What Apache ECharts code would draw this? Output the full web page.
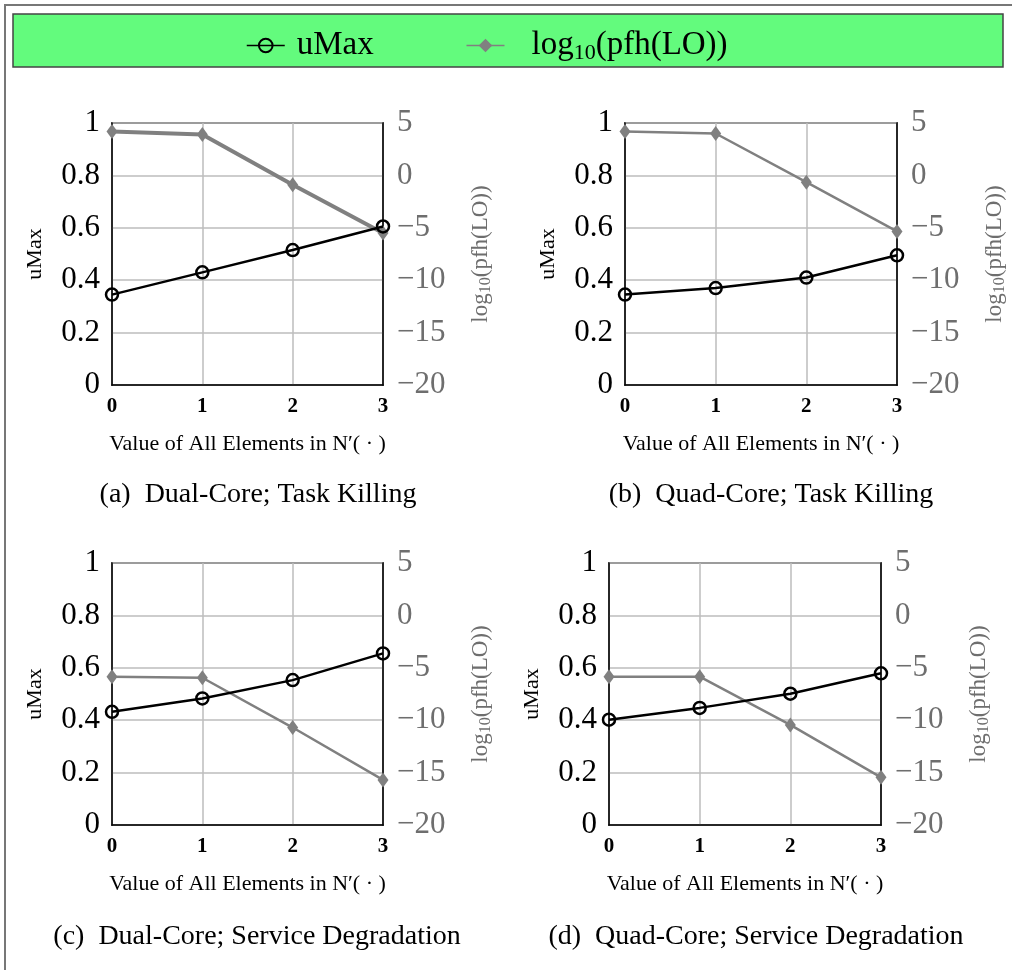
<!DOCTYPE html>
<html>
<head>
<meta charset="utf-8">
<script src="https://cdn.jsdelivr.net/npm/echarts@6/dist/echarts.min.js"></script>
<style>
  html, body { margin: 0; padding: 0; background: #fff; }
  #chart { width: 1012px; height: 970px; }
</style>
</head>
<body>
<div id="chart"></div>
<script>
// x positions: value of all elements in N'(.)
const xValues = [0, 1, 2, 3];

// (a) Dual-Core; Task Killing
const uMaxA = [0.345, 0.43, 0.515, 0.605];
const logA = [4.2, 3.9, -0.9, -5.5];
// (b) Quad-Core; Task Killing
const uMaxB = [0.345, 0.37, 0.41, 0.495];
const logB = [4.2, 4.0, -0.65, -5.35];
// (c) Dual-Core; Service Degradation
const uMaxC = [0.432, 0.483, 0.553, 0.655];
const logC = [-5.85, -5.95, -10.7, -15.7];
// (d) Quad-Core; Service Degradation
const uMaxD = [0.402, 0.447, 0.501, 0.579];
const logD = [-5.85, -5.85, -10.45, -15.45];

const captions = [
  "(a)\u2002Dual-Core; Task Killing",
  "(b)\u2002Quad-Core; Task Killing",
  "(c)\u2002Dual-Core; Service Degradation",
  "(d)\u2002Quad-Core; Service Degradation",
];

const FONT = "'Liberation Serif', 'DejaVu Serif', serif";
const GRAY = "#808080";
const LABEL_GRAY = "#6e6e6e";
const LOG_NAME = "log10(pfh(LO))";

const panels = [
  { left: 112, top: 123, width: 271, uMax: uMaxA, log: logA, logWidth: 4, cx: 258, cy: 495 },
  { left: 625, top: 123, width: 272, uMax: uMaxB, log: logB, logWidth: 2.5, cx: 771, cy: 495 },
  { left: 112, top: 563, width: 271, uMax: uMaxC, log: logC, logWidth: 2.5, cx: 257, cy: 937 },
  { left: 609, top: 563, width: 272, uMax: uMaxD, log: logD, logWidth: 2.5, cx: 756, cy: 937 },
];

const grid = [];
const xAxis = [];
const yAxis = [];
const series = [];
const graphic = [
  {
    type: "rect",
    z: -10,
    shape: { x: 5, y: 5, width: 1040, height: 1000 },
    style: { fill: "none", stroke: "#777", lineWidth: 2 },
  },
  {
    type: "rect",
    z: -10,
    shape: { x: 13, y: 14, width: 990, height: 53 },
    style: { fill: "#63fb7d", stroke: "#444", lineWidth: 1.5 },
  },
];

panels.forEach((p, i) => {
  grid.push({
    left: p.left,
    top: p.top,
    width: p.width,
    height: 262,
    show: true,
    borderColor: "#000",
    borderWidth: 1.5,
  });
  xAxis.push({
    type: "value",
    gridIndex: i,
    min: 0,
    max: 3,
    interval: 1,
    name: "Value of All Elements in N\u2032( \u00b7 )",
    nameLocation: "middle",
    nameGap: 48,
    nameTextStyle: { fontFamily: FONT, fontSize: 22, color: "#000" },
    axisLine: { lineStyle: { color: "#000", width: 1.5 } },
    axisTick: { show: false },
    axisLabel: { fontFamily: FONT, fontSize: 21, fontWeight: "bold", color: "#000", margin: 11 },
    splitLine: { lineStyle: { color: "#bdbdbd", width: 1.5 } },
  });
  yAxis.push({
    type: "value",
    gridIndex: i,
    position: "left",
    min: 0,
    max: 1,
    interval: 0.2,
    name: "uMax",
    nameLocation: "middle",
    nameRotate: 90,
    nameGap: 66,
    nameTextStyle: { fontFamily: FONT, fontSize: 22, color: "#000" },
    axisLine: { show: true, lineStyle: { color: "#000", width: 1.5 } },
    axisTick: { show: false },
    axisLabel: { fontFamily: FONT, fontSize: 31, color: "#000", margin: 12 },
    splitLine: { lineStyle: { color: "#bdbdbd", width: 1.5 } },
  });
  yAxis.push({
    type: "value",
    gridIndex: i,
    position: "right",
    min: -20,
    max: 5,
    interval: 5,
    name: "{a|log}{s|10}{a|(pfh(LO))}",
    nameLocation: "middle",
    nameRotate: 90,
    nameGap: 85,
    nameTextStyle: {
      color: LABEL_GRAY,
      fontFamily: FONT,
      fontSize: 23,
      rich: {
        a: { fontFamily: FONT, fontSize: 23, color: LABEL_GRAY },
        s: { fontFamily: FONT, fontSize: 16, color: LABEL_GRAY, padding: [10, 0, 0, 0] },
      },
    },
    axisLine: { show: true, lineStyle: { color: "#000", width: 1.5 } },
    axisTick: { show: false },
    axisLabel: {
      fontFamily: FONT,
      fontSize: 31,
      color: LABEL_GRAY,
      margin: 14,
      formatter: (v) => (v < 0 ? "\u2212" + Math.abs(v) : String(v)),
    },
    splitLine: { show: false },
  });
  series.push({
    name: LOG_NAME,
    type: "line",
    xAxisIndex: i,
    yAxisIndex: i * 2 + 1,
    data: xValues.map((x, k) => [x, p.log[k]]),
    symbol: "diamond",
    symbolSize: [11, 15],
    lineStyle: { color: GRAY, width: p.logWidth },
    itemStyle: { color: GRAY },
    z: 3,
  });
  series.push({
    name: "uMax",
    type: "line",
    xAxisIndex: i,
    yAxisIndex: i * 2,
    data: xValues.map((x, k) => [x, p.uMax[k]]),
    symbol: "circle",
    symbolSize: 12,
    lineStyle: { color: "#000", width: 2.5 },
    itemStyle: { color: "rgba(0,0,0,0)", borderColor: "#000", borderWidth: 2.5 },
    z: 4,
  });
  graphic.push({
    type: "text",
    x: p.cx,
    y: p.cy,
    style: {
      text: captions[i],
      fontFamily: FONT,
      fontSize: 28,
      fill: "#000",
      align: "center",
      verticalAlign: "middle",
    },
  });
});

const chart = echarts.init(document.getElementById("chart"));
chart.setOption({
  animation: false,
  backgroundColor: "#fff",
  legend: {
    left: 241,
    top: 24,
    itemWidth: 38,
    itemHeight: 17,
    itemGap: 92,
    data: [
      { name: "uMax" },
      { name: LOG_NAME, textStyle: { padding: [0, 0, 0, 22] } },
    ],
    lineStyle: { width: 1.5 },
    formatter: (name) => (name === "uMax" ? "{a|uMax}" : "{a|log}{s|10}{a|(pfh(LO))}"),
    textStyle: {
      fontFamily: FONT,
      fontSize: 33,
      color: "#000",
      padding: [0, 0, 0, 7],
      rich: {
        a: { fontFamily: FONT, fontSize: 33, color: "#000" },
        s: { fontFamily: FONT, fontSize: 22, color: "#000", padding: [16, 0, 0, 0] },
      },
    },
  },
  grid,
  xAxis,
  yAxis,
  series,
  graphic,
});
</script>
</body>
</html>
